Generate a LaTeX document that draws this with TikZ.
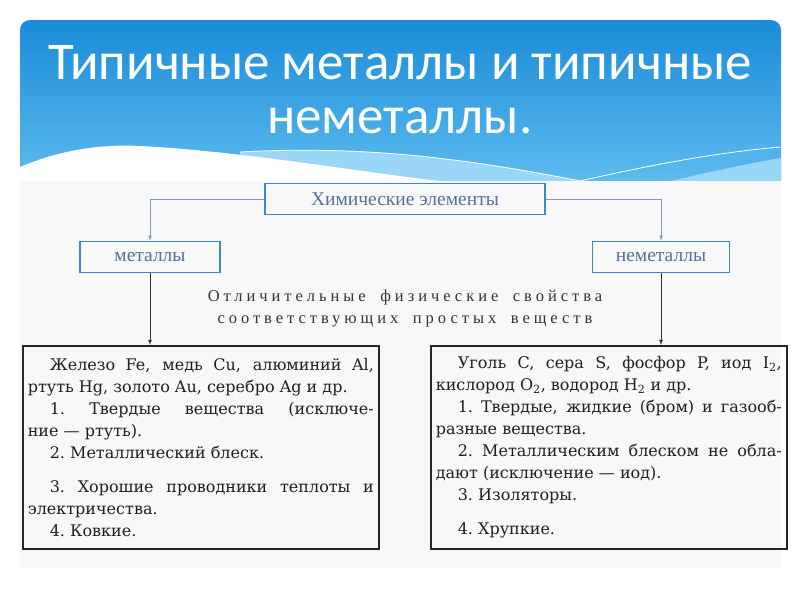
\documentclass[tikz,border=0pt]{standalone}
\usepackage{fontspec}
\setmainfont{DejaVu Serif}
\newfontfamily\titlefont{Carlito}
\newfontfamily\labelfont{Liberation Serif}
\newfontfamily\spacedfont[LetterSpace=24,WordSpace=1.8]{Liberation Serif}
\usepackage{xcolor}
\usepackage{tikz}
\usetikzlibrary{arrows,positioning,calc}

\definecolor{hdrtop}{HTML}{1A8BD8}
\definecolor{hdrbottom}{HTML}{5CBBEF}
\definecolor{hdrband}{HTML}{9AD6F7}
\definecolor{boxblue}{HTML}{3F86D0}
\definecolor{boxtext}{HTML}{55709C}
\definecolor{linkblue}{HTML}{7F9CC8}
\definecolor{scanbg}{HTML}{F8F8F8}

\begin{document}
\begin{tikzpicture}[
    x=1pt, y=-1pt,
    bluebox/.style={rectangle, draw=boxblue, line width=1.6pt, minimum height=31pt, align=center, text=boxtext, font=\labelfont\fontsize{19.5}{22}\selectfont},
    propbox/.style={rectangle, draw=black!85, line width=1.6pt, text width=346pt, inner xsep=5pt, inner ysep=6pt, minimum height=203pt, align=justify, anchor=north west, text=black!88, font=\fontsize{16}{22}\selectfont},
    link/.style={->, >=latex, draw=linkblue, line width=0.8pt},
    arrow/.style={->, >=latex, draw=black!80, line width=0.8pt}
]
\useasboundingbox (0,0) rectangle (800,600);
\fill[white] (0,0) rectangle (800,600);

% header of the slide
\shade[top color=hdrtop, bottom color=hdrbottom] (20,181) [rounded corners=10pt] -- (20,20) -- (781,20) [sharp corners] -- (781,181) -- cycle;
\fill[hdrband] (240,152) .. controls (350,146) and (450,155) .. (580,181) -- (240,181) -- cycle;
\fill[hdrband] (670,181) .. controls (710,172) and (750,163) .. (781,158) -- (781,181) -- cycle;
\fill[white] (20,167) .. controls (60,150) and (100,144) .. (140,146) .. controls (240,151) and (360,172) .. (440,181) -- (20,181) -- cycle;
\draw[white, line width=0.8pt] (240,152) .. controls (350,146) and (450,155) .. (580,181);
\draw[white, line width=0.8pt] (580,181) .. controls (650,165) and (720,152) .. (781,147);
\node[text=white, align=center, font=\titlefont\fontsize{53}{54}\selectfont] (title) at (400,90) {Типичные металлы и типичные\\неметаллы.};

% scanned scheme
\fill[scanbg] (20,181) rectangle (781,568);

\node[bluebox, minimum width=280pt] (chem) at (405,199) {Химические элементы};
\node[bluebox, minimum width=140pt] (metals) at (150,257) {металлы};
\node[bluebox, minimum width=137pt] (nonmetals) at (661,257) {неметаллы};

\node[align=center, text=black!80, font=\spacedfont\fontsize{16.5}{22}\selectfont] (caption) at (405,309) {Отличительные физические свойства\\соответствующих простых веществ};

\node[propbox] (metprops) at (22,345) {\setlength\parindent{22pt}\hspace*{22pt}Железо Fe, медь Cu, алюминий Al,\linebreak
ртуть Hg, золото Au, серебро Ag и~др.\par
1.~Твердые вещества (исключе-\linebreak
ние~— ртуть).\par
2.~Металлический блеск.\par\vspace{12pt}
3.~Хорошие проводники теплоты и\linebreak
электричества.\par
4.~Ковкие.\par};

\node[propbox] (nonmetprops) at (430,345) {\setlength\parindent{22pt}\hspace*{22pt}Уголь C, сера S, фосфор P, иод I\textsubscript{2},\linebreak
кислород O\textsubscript{2}, водород H\textsubscript{2} и~др.\par
1.~Твердые, жидкие (бром) и газооб-\linebreak
разные вещества.\par
2.~Металлическим блеском не обла-\linebreak
дают (исключение~— иод).\par
3.~Изоляторы.\par\vspace{12pt}
4.~Хрупкие.\par};

\draw[link] (chem.west) -| (metals.north);
\draw[link] (chem.east) -| (nonmetals.north);
\draw[arrow] (metals.south) -- (metals.south |- metprops.north);
\draw[arrow] (nonmetals.south) -- (nonmetals.south |- nonmetprops.north);

\end{tikzpicture}
\end{document}
